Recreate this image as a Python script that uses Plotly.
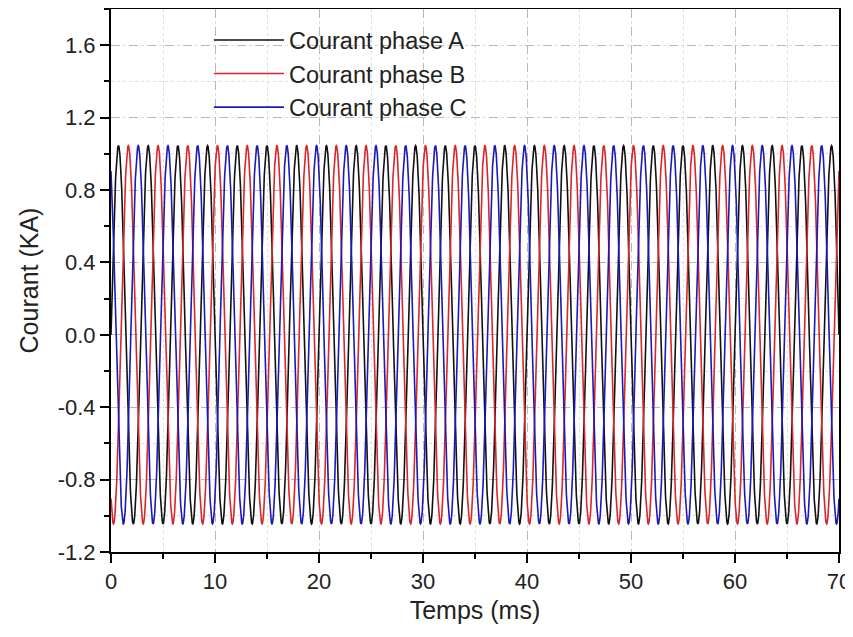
import numpy as np
import plotly.graph_objects as go

# ---- data ----
series_names = ["Courant phase A", "Courant phase B", "Courant phase C"]
series_colors = ["#111111", "#d9262a", "#1a1ab8"]
amplitude_ka = 1.045          # peak current (KA)
frequency_hz = 350.0          # ~24.5 cycles over 70 ms
phase_deg = [0.0, -120.0, 120.0]
time_ms = np.linspace(0.0, 70.0, 4201)

x_ticks = [0, 10, 20, 30, 40, 50, 60, 70]
y_ticks = [-1.2, -0.8, -0.4, 0.0, 0.4, 0.8, 1.2, 1.6]
y_tick_labels = ["-1.2", "-0.8", "-0.4", "0.0", "0.4", "0.8", "1.2", "1.6"]

font_family = "Arial, 'Liberation Sans', sans-serif"

fig = go.Figure()
for name, color, ph in zip(series_names, series_colors, phase_deg):
    y = amplitude_ka * np.sin(2 * np.pi * frequency_hz * time_ms / 1000.0 + np.deg2rad(ph))
    fig.add_trace(go.Scatter(x=time_ms, y=y, mode="lines", name=name,
                             line=dict(color=color, width=1.6)))

axis_common = dict(
    showline=True, linecolor="black", linewidth=2, mirror=True,
    ticks="outside", tickcolor="black", tickwidth=2, ticklen=9,
    showgrid=True, gridcolor="#b8b8b8", griddash="dash", gridwidth=1,
    zeroline=False, automargin=False,
    tickfont=dict(family=font_family, size=22, color="#222"),
    title_font=dict(family=font_family, size=25, color="#222"),
)

fig.update_xaxes(
    range=[0, 70], tickvals=x_ticks, title_text="Temps (ms)", title_standoff=8,
    minor=dict(dtick=5, tick0=0, ticks="outside", ticklen=5, tickcolor="black", tickwidth=2,
               showgrid=True, gridcolor="#dddddd", griddash="dot", gridwidth=1),
    **axis_common,
)
fig.update_yaxes(
    range=[-1.2, 1.8], tickvals=y_ticks, ticktext=y_tick_labels, title_text="Courant (KA)",
    title_standoff=12,
    minor=dict(dtick=0.2, tick0=0, ticks="outside", ticklen=5, tickcolor="black", tickwidth=2,
               showgrid=True, gridcolor="#dddddd", griddash="dot", gridwidth=1),
    **axis_common,
)

# the page adds an 8px body margin, so the figure is sized to fit the window
fig.update_layout(
    width=845, height=629,
    margin=dict(l=103, r=14, t=1, b=85),
    paper_bgcolor="white", plot_bgcolor="white",
    font=dict(family=font_family, color="#222"),
    showlegend=True,
    legend=dict(x=0.1345, y=0.983, xanchor="left", yanchor="top",
                bgcolor="rgba(0,0,0,0)", borderwidth=0,
                font=dict(family=font_family, size=23.5, color="#222"),
                tracegroupgap=0, itemwidth=70),
)

fig.write_html("out.html")
